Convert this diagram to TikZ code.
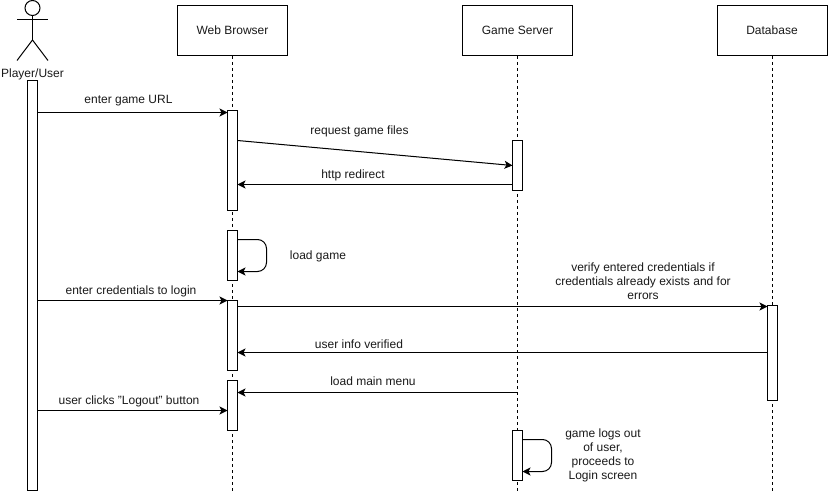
\documentclass[tikz,border=0pt]{standalone}
\usepackage{fontspec}
\setmainfont{Liberation Sans}
\usetikzlibrary{arrows.meta}
\definecolor{ink}{HTML}{1A1A1A}
\tikzset{
  x=1pt,y=-1pt,
  every node/.style={font=\fontsize{12}{14}\selectfont,text=ink},
  party/.style={draw=black,line width=1pt,fill=white,minimum width=110pt,minimum height=50pt,inner sep=0pt,anchor=center},
  bar/.style={draw=black,line width=1pt,fill=white,minimum width=10pt,inner sep=0pt,outer sep=0pt,anchor=north},
  lifeline/.style={draw=black,line width=0.8pt,dash pattern=on 3pt off 3pt},
  msg/.style={draw=black,line width=1pt,-{Stealth[length=8pt,width=8pt,inset=2pt]}},
  body/.style={draw=black,line width=1pt},
  lbl/.style={align=center,inner sep=0pt,anchor=center}
}
\begin{document}
\begin{tikzpicture}
\useasboundingbox (0,0) rectangle (828,492);
\fill[white] (0,0) rectangle (828,492);
% lifelines ends
\coordinate (wEnd) at (232.5,491);
\coordinate (gEnd) at (517.5,491);
\coordinate (dEnd) at (772.5,491);
% parties
\node[party] (web) at (232.5,30.5) {Web Browser};
\node[party] (game) at (517.5,30.5) {Game Server};
\node[party] (db) at (772,30.5) {Database};
\draw[lifeline] (web.south) -- (wEnd);
\draw[lifeline] (game.south) -- (gEnd);
\draw[lifeline] (db.south) -- (db.south |- dEnd);
% actor
\coordinate (hip) at (32.5,40);
\coordinate (neck) at (32.5,15.5);
\draw[body] (32.5,8) circle (7.5);
\draw[body] (neck) -- (hip);
\draw[body] (17,20) -- (48,20);
\draw[body] (17,60.5) -- (hip) -- (48,60.5);
\node[lbl] (actor) at (32.5,74.5) {Player/User};
% bars
\node[bar,minimum height=410pt] (pbar) at (32.5,80.5) {};
\node[bar,minimum height=100pt] (w1) at (232.5,110.5) {};
\node[bar,minimum height=50pt] (w2) at (232.5,230.5) {};
\node[bar,minimum height=70pt] (w3) at (232.5,300.5) {};
\node[bar,minimum height=50pt] (w4) at (232.5,380.5) {};
\node[bar,minimum height=50pt] (g1) at (517.5,140.5) {};
\node[bar,minimum height=50pt] (g2) at (517.5,430.5) {};
\node[bar,minimum height=95pt] (d1) at (772.5,305.5) {};
% messages
\draw[msg] (pbar.east |- 0,112.5) -- (w1.west |- 0,112.5);
\draw[msg] (w1.east |- 0,140.5) -- (g1.west);
\draw[msg] (g1.west |- 0,184.5) -- (w1.east |- 0,184.5);
\draw[msg,rounded corners=9pt] (w2.east |- 0,239.5) -- (266.5,239.5) -- (266.5,271.5) -- (w2.east |- 0,271.5);
\draw[msg] (pbar.east |- 0,300.5) -- (w3.north west);
\draw[msg] (w3.east |- 0,306.5) -- (d1.north west |- 0,306.5);
\draw[msg] (d1.west |- 0,352.5) -- (w3.east |- 0,352.5);
\draw[msg] (game.south |- 0,392.5) -- (w4.east |- 0,392.5);
\draw[msg] (pbar.east |- 0,410.5) -- (w4.west |- 0,410.5);
\draw[msg,rounded corners=9pt] (g2.east |- 0,439.5) -- (551.5,439.5) -- (551.5,471.5) -- (g2.east |- 0,471.5);
% labels
\node[lbl] (l1) at (128.5,101) {enter game URL};
\node[lbl] (l2) at (359.5,131) {request game files};
\node[lbl] (l3) at (353,175.5) {http redirect};
\node[lbl] (l4) at (318,256) {load game};
\node[lbl] (l5) at (643,281) {verify entered credentials if\\credentials already exists and for\\errors};
\node[lbl] (l6) at (131,291) {enter credentials to login};
\node[lbl] (l7) at (359,344) {user info verified};
\node[lbl] (l8) at (373,381.5) {load main menu};
\node[lbl] (l9) at (129,401) {user clicks "Logout" button};
\node[lbl] (l10) at (603,455) {game logs out\\of user,\\proceeds to\\Login screen};
\end{tikzpicture}
\end{document}
